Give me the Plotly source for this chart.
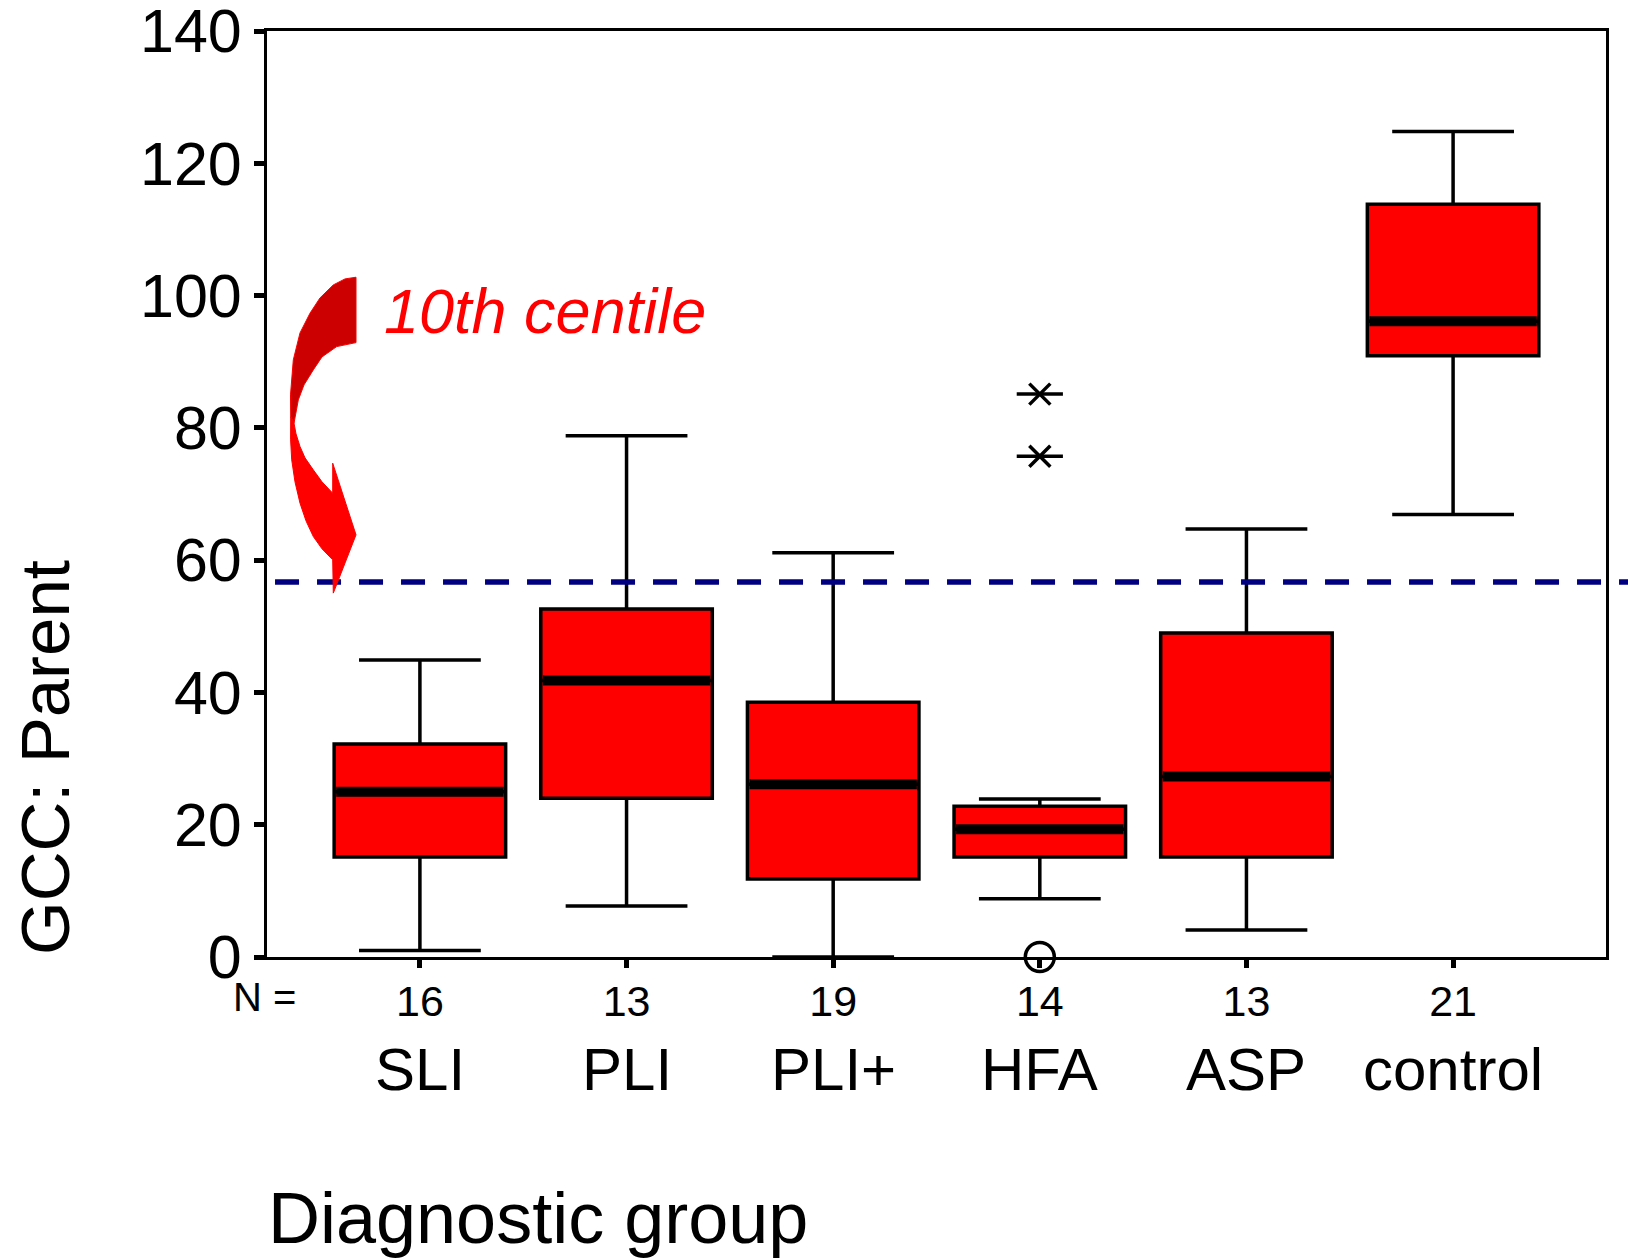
import plotly.graph_objects as go

groups = ["SLI", "PLI", "PLI+", "HFA", "ASP", "control"]
n_values = [16, 13, 19, 14, 13, 21]
lower_whisker = [1, 7.7, 0, 8.8, 4.1, 66.9]
q1 = [15.1, 24.0, 11.8, 15.1, 15.1, 90.9]
median = [25.0, 41.8, 26.1, 19.3, 27.3, 96.1]
q3 = [32.2, 52.6, 38.5, 22.8, 49.0, 113.8]
upper_whisker = [44.9, 78.8, 61.1, 23.9, 64.7, 124.8]
extreme_group = ["HFA", "HFA"]
extreme_values = [85.1, 75.7]
outlier_group = ["HFA"]
outlier_values = [0]
centile_10 = 56.7
y_ticks = [0, 20, 40, 60, 80, 100, 120, 140]

FONT = "Liberation Sans, Arial, sans-serif"
NARROW = "Liberation Sans Narrow, Arial Narrow, " + FONT
BOX_W = 0.83
pos = list(range(len(groups)))
gidx = {g: i for i, g in enumerate(groups)}

fig = go.Figure()
fig.add_trace(go.Box(
    x=pos, q1=q1, median=median, q3=q3,
    lowerfence=lower_whisker, upperfence=upper_whisker,
    width=BOX_W, whiskerwidth=0.71, boxpoints=False,
    fillcolor="#FF0000", line=dict(color="black", width=3.5),
    showlegend=False, hoverinfo="skip",
))
# extremes (asterisk: horizontal + diagonals)
ex = [gidx[g] for g in extreme_group]
fig.add_trace(go.Scatter(x=ex, y=extreme_values, mode="markers", cliponaxis=False,
                         marker=dict(symbol="line-ew-open", size=33, color="black",
                                     line=dict(color="black", width=3.5)),
                         showlegend=False, hoverinfo="skip"))
fig.add_trace(go.Scatter(x=ex, y=extreme_values, mode="markers", cliponaxis=False,
                         marker=dict(symbol="x-thin-open", size=21, color="black",
                                     line=dict(color="black", width=3.5)),
                         showlegend=False, hoverinfo="skip"))
ox = [gidx[g] for g in outlier_group]
fig.add_trace(go.Scatter(x=ox, y=outlier_values, mode="markers", cliponaxis=False,
                         marker=dict(symbol="circle-open", size=29, color="black",
                                     line=dict(color="black", width=3.5)),
                         showlegend=False, hoverinfo="skip"))

shapes = []
# thick medians
for i, m in enumerate(median):
    shapes.append(dict(type="line", xref="x", yref="y", x0=i - BOX_W / 2 + 0.01, x1=i + BOX_W / 2 - 0.01,
                       y0=m, y1=m, line=dict(color="black", width=10)))
# 10th centile dashed line
shapes.append(dict(type="line", xref="paper", yref="y", x0=0.006, x1=1.03, y0=centile_10, y1=centile_10,
                   line=dict(color="#000080", width=5.5, dash="24px,18px")))

# curved arrow (reference page pixel coords -> paper)
def to_paper(pts):
    return [((x - 267) / 1339.0, (957.3 - y) / 926.3) for x, y in pts]

def path(pts):
    p = to_paper(pts)
    s = "M %.5f %.5f " % p[0]
    s += " ".join("L %.5f %.5f" % q for q in p[1:])
    return s + " Z"

dark = [(356.0, 277.3), (356.0, 342.7), (336.7, 346.7), (322, 357), (313.3, 370), (304, 385),
        (298.3, 400), (294, 423.3), (290.7, 416.7), (290.5, 395), (293.3, 360), (300, 333),
        (310, 313.3), (320, 298), (333.3, 285), (345, 279)]
bright = [(290.7, 416.7), (290.6, 440), (291.7, 460), (295, 482), (300, 503.3), (306, 521),
          (313.3, 536.7), (322, 549), (332.7, 560), (333.3, 593.3), (356, 535), (332.7, 463.3),
          (332.7, 493.3), (322, 482), (313.3, 470), (305, 458), (300, 446.7), (296, 434), (294, 423.3)]
shapes.append(dict(type="path", xref="paper", yref="paper", path=path(dark),
                   fillcolor="#CC0000", line=dict(color="#FF0000", width=1)))
shapes.append(dict(type="path", xref="paper", yref="paper", path=path(bright),
                   fillcolor="#FF0000", line=dict(color="#FF0000", width=1)))

annotations = []
for i, g in enumerate(groups):
    annotations.append(dict(x=i, xref="x", y=-0.121, yref="paper", text=g, showarrow=False,
                            font=dict(family=FONT, size=60, color="black"), xanchor="center", yanchor="middle"))
annotations.append(dict(x=-0.0015, xref="paper", y=-0.043, yref="paper", text="N =", showarrow=False,
                        font=dict(family=NARROW, size=40, color="black"),
                        xanchor="center", yanchor="middle"))
annotations.append(dict(x=0.2024, xref="paper", y=-0.282, yref="paper", text="Diagnostic group", showarrow=False,
                        font=dict(family=FONT, size=72, color="black"), xanchor="center", yanchor="middle"))
annotations.append(dict(x=-0.165, xref="paper", y=0.215, yref="paper", text="GCC: Parent", showarrow=False,
                        textangle=-90, font=dict(family=FONT, size=69, color="black"),
                        xanchor="center", yanchor="middle"))
annotations.append(dict(x=0.0859, xref="paper", y=0.6977, yref="paper", text="<i>10th centile</i>", showarrow=False,
                        font=dict(family=FONT, size=63, color="#FF0000"), xanchor="left", yanchor="middle"))

fig.update_layout(
    width=1628, height=1260,
    margin=dict(l=267, r=22, t=31, b=303, autoexpand=False),
    paper_bgcolor="white", plot_bgcolor="white",
    shapes=shapes, annotations=annotations,
    xaxis=dict(range=[-0.74, 5.74], tickmode="array", tickvals=pos, ticktext=[str(n) for n in n_values],
               ticks="outside", ticklen=8, tickwidth=5, tickcolor="black",
               tickfont=dict(family=NARROW, size=43, color="black"),
               showline=True, linecolor="black", linewidth=3, mirror=True, automargin=False,
               showgrid=False, zeroline=False, ticklabelstandoff=-4),
    yaxis=dict(range=[0, 140.0001], tickmode="array", tickvals=y_ticks,
               ticks="outside", ticklen=10, tickwidth=5, tickcolor="black",
               tickfont=dict(family=FONT, size=61, color="black"),
               showline=True, linecolor="black", linewidth=3, mirror=True, automargin=False,
               showgrid=False, zeroline=False, ticklabelstandoff=0, ticklabeloverflow="allow"),
)

# remove the default 8px page margin so the figure fills the window exactly
fig.write_html("out.html", config={"displayModeBar": False},
               post_script="document.body.style.margin='0px';document.body.style.overflow='hidden';")
